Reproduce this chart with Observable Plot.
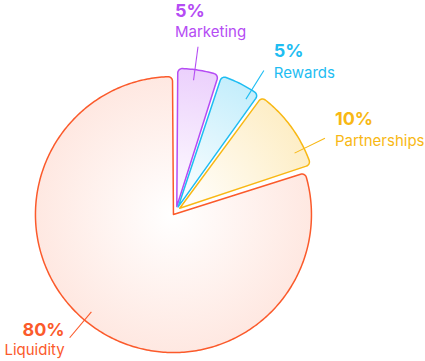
<!DOCTYPE html>
<html><head><meta charset="utf-8">
<script src="https://cdn.jsdelivr.net/npm/d3@7"></script>
<script src="https://cdn.jsdelivr.net/npm/@observablehq/plot@0.6"></script>
<style>
html,body{margin:0;padding:0;background:#fff;overflow:hidden}
</style></head><body><div id="chart"></div>
<script>
// ---- data ----
const categories = ["Marketing", "Rewards", "Partnerships", "Liquidity"];
const shares = [5, 5, 10, 80];
const percentLabels = ["5%", "5%", "10%", "80%"];
const colors = ["#b54cf4", "#1ebdf2", "#f8b814", "#fb5a2b"];

// ---- layout ----
const W = 425, H = 361, CX = 175.6, CY = 210.4, R = 138;
const explode = 4.5 / R;
const pad = 0.007;
const cornerR = 4.5 / R;
const fillOpacity = [0.26, 0.26, 0.24, 0.14];
const labelNudgeDeg = {Marketing: -1.4, Rewards: 5, Partnerships: 10, Liquidity: 4};
const leaderIn = 0.955, leaderOut = 1.2;

const arcs = d3.pie().sort(null).value(d => d.value)(
  categories.map((c, i) => ({category: c, value: shares[i], pct: percentLabels[i], color: colors[i], i}))
);

const P = (r, a) => [r * Math.sin(a), r * Math.cos(a)];

function offsetOf(d) {
  const m = (d.startAngle + d.endAngle) / 2;
  return [explode * Math.sin(m), explode * Math.cos(m)];
}

function sliceOutline(d) {
  const a0 = d.startAngle + pad, a1 = d.endAngle - pad;
  const [ox, oy] = offsetOf(d);
  const rc = cornerR, rr = 1 - rc;
  const delta = Math.asin(rc / rr);
  const L = Math.sqrt(rr * rr - rc * rc);
  const corner = (aEdge, sign) => {
    const cc = P(rr, aEdge + sign * delta);
    const t1 = P(L, aEdge), t2 = P(1, aEdge + sign * delta);
    const f1 = Math.atan2(t1[1] - cc[1], t1[0] - cc[0]);
    const f2 = Math.atan2(t2[1] - cc[1], t2[0] - cc[0]);
    let df = f2 - f1;
    while (df > Math.PI) df -= 2 * Math.PI;
    while (df < -Math.PI) df += 2 * Math.PI;
    const out = [];
    for (let k = 0; k <= 8; k++) {
      const f = f1 + df * k / 8;
      out.push([cc[0] + rc * Math.cos(f), cc[1] + rc * Math.sin(f)]);
    }
    return out;
  };
  const pts = [[0, 0]];
  pts.push(...corner(a0, 1));
  const b0 = a0 + delta, b1 = a1 - delta;
  const n = Math.max(2, Math.ceil((b1 - b0) / 0.015));
  for (let k = 0; k <= n; k++) pts.push(P(1, b0 + (b1 - b0) * k / n));
  pts.push(...corner(a1, -1).reverse());
  return pts.map(([x, y]) => ({x: x + ox, y: y + oy, category: d.data.category}));
}

function placement(angle) {
  const s = Math.sin(angle), c = Math.cos(angle);
  if (c > 0.9) return {anchor: "start", dx: -23, dyPct: -29.5, dyName: -10};
  if (s > 0) return {anchor: "start", dx: 10, dyPct: -13.5, dyName: 7.2};
  return {anchor: "end", dx: -5, dyPct: -1.3, dyName: 17.7};
}

const marks = [];
arcs.forEach(d => {
  marks.push(Plot.line(sliceOutline(d), {
    x: "x", y: "y", curve: "linear-closed",
    stroke: d.data.color, strokeWidth: 1.5,
    fill: `url(#slicegrad${d.data.i})`
  }));
});
arcs.forEach(d => {
  const th = (d.startAngle + d.endAngle) / 2 + labelNudgeDeg[d.data.category] * Math.PI / 180;
  const [x1, y1] = P(leaderIn, th), [x2, y2] = P(leaderOut, th);
  const pl = placement(th);
  const row = [{x1, y1, x2, y2, pct: d.data.pct, name: d.data.category}];
  marks.push(Plot.link(row, {x1: "x1", y1: "y1", x2: "x2", y2: "y2", stroke: d.data.color, strokeWidth: 1.1}));
  marks.push(Plot.text(row, {x: "x2", y: "y2", text: "pct", fill: d.data.color, textAnchor: pl.anchor,
    lineAnchor: "bottom", dx: pl.dx, dy: pl.dyPct, fontSize: 18, fontWeight: 700, fontFamily: "Inter, sans-serif"}));
  marks.push(Plot.text(row, {x: "x2", y: "y2", text: "name", fill: d.data.color, textAnchor: pl.anchor,
    lineAnchor: "bottom", dx: pl.dx, dy: pl.dyName, fontSize: 15, fontWeight: 400, fontFamily: "Inter, sans-serif"}));
});

const chart = Plot.plot({
  width: W, height: H, margin: 0,
  x: {domain: [-1, 1], range: [CX - R, CX + R], axis: null},
  y: {domain: [-1, 1], range: [CY + R, CY - R], axis: null},
  style: {background: "#fff", fontFamily: "Inter, sans-serif", overflow: "visible"},
  marks
});

// radial gradients, placed via the plot's own scales
const sx = chart.scale("x"), sy = chart.scale("y");
const defs = d3.select(chart).insert("defs", ":first-child");
arcs.forEach(d => {
  const [ox, oy] = offsetOf(d);
  const gx = sx.apply(ox), gy = sy.apply(oy), r = sx.apply(ox + 1) - gx;
  const g = defs.append("radialGradient").attr("id", `slicegrad${d.data.i}`)
    .attr("gradientUnits", "userSpaceOnUse").attr("cx", gx).attr("cy", gy).attr("r", r);
  g.append("stop").attr("offset", "0").attr("stop-color", d.data.color).attr("stop-opacity", 0);
  g.append("stop").attr("offset", "1").attr("stop-color", d.data.color).attr("stop-opacity", fillOpacity[d.data.i]);
});

document.getElementById("chart").appendChild(chart);
</script></body></html>
